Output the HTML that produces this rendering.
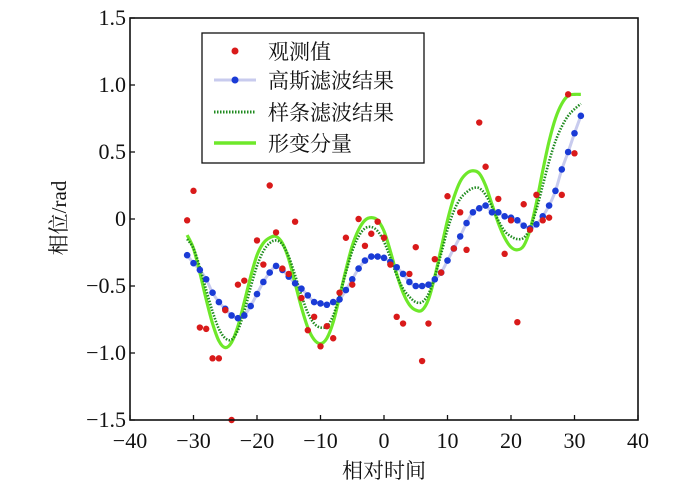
<!DOCTYPE html>
<html><head><meta charset="utf-8"><style>
body{margin:0;background:#fff;width:700px;height:489px;overflow:hidden}
svg{display:block}
text{font-family:"Liberation Serif","Noto Serif CJK SC",serif;fill:#111}
</style></head><body>
<svg id="chart" width="700" height="489" viewBox="0 0 700 489" xmlns="http://www.w3.org/2000/svg">
<g id="plot"></g>
<g id="axes"></g>
<g id="legend">
<rect x="202" y="33" width="222" height="130" fill="#fff" stroke="#111" stroke-width="1.3"/>
<circle cx="235" cy="51" r="3.5" fill="#d91a1a"/>
<text x="268" y="59" font-size="21">观测值</text>
<line x1="214" y1="80" x2="256" y2="80" stroke="#c8cbee" stroke-width="3"/>
<circle cx="235" cy="80" r="3.5" fill="#1a3bd6"/>
<text x="268" y="88" font-size="21">高斯滤波结果</text>
<line x1="214" y1="112" x2="256" y2="112" stroke="#1f8a1f" stroke-width="3" stroke-dasharray="1.5 1.5"/>
<text x="268" y="120" font-size="21">样条滤波结果</text>
<line x1="214" y1="143" x2="256" y2="143" stroke="#6ee82a" stroke-width="3.5"/>
<text x="268" y="151" font-size="21">形变分量</text>
</g>
</svg>
<script>
const obsX=[-31,-30,-29,-28,-27,-26,-25,-24,-23,-22,-20,-19,-18,-17,-16,-15,-14,-13,-12,-11,-10,-9,-8,-7,-6,-5,-4,-3,-2,-1,0,1,2,3,4,5,6,7,8,9,10,11,12,13,15,16,18,19,20,21,22,23,24,25,26,28,29,30];
const obsY=[-0.01,0.21,-0.81,-0.82,-1.04,-1.04,-0.68,-1.5,-0.49,-0.46,-0.16,-0.34,0.25,-0.10,-0.37,-0.41,-0.02,-0.59,-0.83,-0.73,-0.95,-0.80,-0.89,-0.55,-0.14,-0.49,0.0,-0.20,-0.11,-0.02,-0.14,-0.34,-0.73,-0.78,-0.41,-0.21,-1.06,-0.78,-0.30,-0.40,0.17,-0.22,0.05,-0.23,0.72,0.39,0.15,-0.26,-0.01,-0.77,0.11,-0.08,0.18,-0.01,0.01,0.18,0.93,0.49];
const fitX=[];for(let i=-31;i<=31;i++)fitX.push(i);
const gaussY=[-0.27,-0.33,-0.38,-0.45,-0.55,-0.62,-0.67,-0.72,-0.74,-0.72,-0.65,-0.56,-0.47,-0.40,-0.35,-0.38,-0.43,-0.48,-0.52,-0.57,-0.62,-0.63,-0.64,-0.62,-0.60,-0.53,-0.45,-0.37,-0.31,-0.28,-0.28,-0.29,-0.32,-0.36,-0.41,-0.47,-0.50,-0.50,-0.49,-0.45,-0.40,-0.31,-0.22,-0.13,-0.03,0.05,0.08,0.10,0.05,0.05,0.02,0.01,-0.01,-0.05,-0.07,-0.04,0.02,0.10,0.21,0.37,0.50,0.64,0.77];
const splineY=[-0.15,-0.22,-0.36,-0.53,-0.69,-0.82,-0.89,-0.90,-0.83,-0.69,-0.51,-0.35,-0.24,-0.18,-0.16,-0.19,-0.28,-0.42,-0.57,-0.70,-0.78,-0.81,-0.80,-0.72,-0.57,-0.40,-0.24,-0.13,-0.07,-0.06,-0.09,-0.17,-0.29,-0.42,-0.52,-0.58,-0.62,-0.62,-0.56,-0.43,-0.26,-0.08,0.06,0.15,0.20,0.23,0.23,0.18,0.09,-0.01,-0.09,-0.13,-0.15,-0.14,-0.07,0.07,0.25,0.43,0.58,0.69,0.77,0.82,0.86];
const formY=[-0.12,-0.22,-0.40,-0.60,-0.78,-0.91,-0.96,-0.92,-0.80,-0.62,-0.43,-0.27,-0.18,-0.14,-0.13,-0.18,-0.30,-0.48,-0.66,-0.81,-0.90,-0.93,-0.89,-0.77,-0.58,-0.38,-0.20,-0.08,-0.01,0.01,-0.01,-0.09,-0.24,-0.41,-0.55,-0.64,-0.68,-0.68,-0.60,-0.43,-0.22,-0.01,0.16,0.28,0.34,0.36,0.34,0.25,0.11,-0.03,-0.14,-0.21,-0.23,-0.20,-0.08,0.12,0.36,0.58,0.75,0.86,0.92,0.93,0.93];
const xTicks=[-40,-30,-20,-10,0,10,20,30,40];
const yTicks=[-1.5,-1.0,-0.5,0,0.5,1.0,1.5];
const yTickLabels=["−1.5","−1.0","−0.5","0","0.5","1.0","1.5"];

const L=130,R=638,T=18,B=420;
const sx=v=>L+(v+40)/80*(R-L);
const sy=v=>B-(v+1.5)/3*(B-T);
const NS="http://www.w3.org/2000/svg";
function mk(tag,attrs,parent){const e=document.createElementNS(NS,tag);for(const k in attrs)e.setAttribute(k,attrs[k]);parent.appendChild(e);return e;}
function smooth(xs,ys){let p=[];for(let i=0;i<xs.length;i++)p.push([sx(xs[i]),sy(ys[i])]);
 let d="M"+p[0][0].toFixed(2)+","+p[0][1].toFixed(2);
 for(let i=0;i<p.length-1;i++){const p0=p[Math.max(0,i-1)],p1=p[i],p2=p[i+1],p3=p[Math.min(p.length-1,i+2)];
  const c1=[p1[0]+(p2[0]-p0[0])/6,p1[1]+(p2[1]-p0[1])/6],c2=[p2[0]-(p3[0]-p1[0])/6,p2[1]-(p3[1]-p1[1])/6];
  d+="C"+c1.map(v=>v.toFixed(2))+" "+c2.map(v=>v.toFixed(2))+" "+p2.map(v=>v.toFixed(2));}
 return d;}
const plot=document.getElementById('plot'),axes=document.getElementById('axes');
let e;
e=mk('path',{d:smooth(fitX,gaussY),fill:'none',stroke:'#c8cbee','stroke-width':3},plot);


e=mk('path',{d:smooth(fitX,formY),fill:'none',stroke:'#6ee82a','stroke-width':3.2},plot);


e=mk('path',{d:smooth(fitX,splineY),fill:'none',stroke:'#1f8a1f','stroke-width':2.6,'stroke-dasharray':'1.5 1.5'},plot);


for(let i=0;i<fitX.length;i++){
 e=mk('circle',{cx:sx(fitX[i]),cy:sy(gaussY[i]),r:3.3,fill:'#1a3bd6'},plot);
 
 
}
for(let i=0;i<obsX.length;i++){
 e=mk('circle',{cx:sx(obsX[i]),cy:sy(obsY[i]),r:3.2,fill:'#d91a1a'},plot);
 
 
}
e=mk('rect',{x:L,y:T,width:R-L,height:B-T,fill:'none',stroke:'#111','stroke-width':1.6},axes);


xTicks.forEach(t=>{
 e=mk('line',{x1:sx(t),x2:sx(t),y1:B,y2:B-5,stroke:'#111','stroke-width':1.3},axes);
 
 
 e=mk('text',{x:sx(t),y:B+28,'font-size':22,'text-anchor':'middle'},axes);
 e.textContent=t<0?"−"+(-t):String(t);
 
 
});
yTicks.forEach((t,i)=>{
 e=mk('line',{x1:L,x2:L+5,y1:sy(t),y2:sy(t),stroke:'#111','stroke-width':1.3},axes);
 
 
 e=mk('text',{x:L-4,y:sy(t)+7,'font-size':22,'text-anchor':'end'},axes);
 e.textContent=yTickLabels[i];
 
 
});
e=mk('text',{x:384,y:478,'font-size':21,'text-anchor':'middle'},axes);
e.textContent="相对时间";


e=mk('text',{x:0,y:0,'font-size':21,'text-anchor':'middle',transform:'translate(66,218) rotate(-90)'},axes);
e.textContent="相位/rad";


</script>
</body></html>
